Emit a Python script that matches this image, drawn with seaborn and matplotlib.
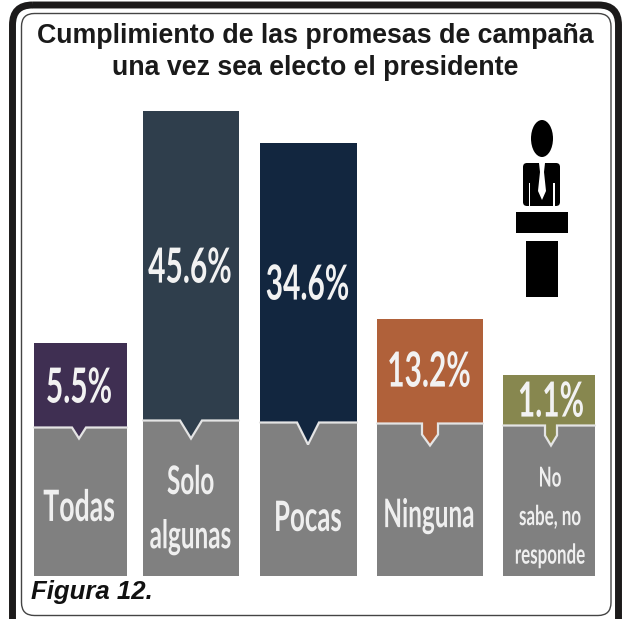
import matplotlib
matplotlib.use("Agg")
import matplotlib.pyplot as plt
from matplotlib.patches import FancyBboxPatch, Ellipse, Polygon, Rectangle
from matplotlib.patheffects import AbstractPathEffect
from matplotlib.transforms import Affine2D
import pandas as pd
import seaborn as sns

# ---- data ----
categories = ["Todas", "Solo\nalgunas", "Pocas", "Ninguna", "No\nsabe, no\nresponde"]
percent_values = [5.5, 45.6, 34.6, 13.2, 1.1]
# the infographic bars are not to scale: drawn heights are read separately
total_heights = [233, 465, 433, 257, 201]
base_heights = [148, 155, 153, 152, 150]
bar_colors = ["#3f2f52", "#2f3e4c", "#12263f", "#b0613a", "#87874f"]
title_lines = "Cumplimiento de las promesas de campaña\nuna vez sea electo el presidente"
footer = "Figura 12."

# ---- layout (pixels) ----
W, H = 623, 619
BASE = 575.5
centers = [80.5, 191, 308.5, 430, 549]
widths = [93, 96, 97, 106, 92]
notch_half = [7, 11, 11, 8, 6]
notch_depth = [11, 18, 22, 22, 20]
notch_cx = [79, 191, 308, 430, 551]
notch_stem = [0, 0, 0, 11, 10]
pct_x = [79, 190, 307.5, 429, 551]
pct_y = [388, 268, 285, 372, 402]
pct_size = 21.5
label_x = [79, 190.5, 308, 429, 550]
label_y = [508, 509, 518, 515, 517]
label_size = [19.2, 17.5, 18.6, 17.5, 12.2]
label_spacing = [1, 1.55, 1, 1, 1.6]
STRETCH = 1.62

sns.set_theme(style="white")
condensed = ["Lato", "DejaVu Sans"]
arial = ["Liberation Sans", "DejaVu Sans"]


class TallText(AbstractPathEffect):
    """Stretch a text's glyphs upward around its centre (the source uses a condensed face)."""
    def __init__(self, cy, sy):
        super().__init__()
        self.cy, self.sy = cy, sy

    def draw_path(self, renderer, gc, tpath, affine, rgbFace=None):
        tall = affine + Affine2D().translate(0, -self.cy).scale(1, self.sy).translate(0, self.cy)
        renderer.draw_path(gc, tpath, tall, rgbFace)


fig = plt.figure(figsize=(W / 100, H / 100), dpi=100, facecolor="white")
ax = fig.add_axes([0, 0, 1, 1])

df = pd.DataFrame({"cat": categories, "total": total_heights, "base": base_heights})
sns.barplot(data=df, x="cat", y="total", hue="cat", palette=bar_colors, legend=False,
            ax=ax, saturation=1, width=1)
n_colored = len(ax.patches)
sns.barplot(data=df, x="cat", y="base", color="#808080", ax=ax, saturation=1, width=1)
ax.set_xlim(0, W)
ax.set_ylim(BASE - H, BASE)
ax.axis("off")
for i, p in enumerate(ax.patches):
    k = i % n_colored
    p.set_x(centers[k] - widths[k] / 2)
    p.set_width(widths[k])
    p.set_linewidth(0)

LIGHT = "#e4e4e4"
for k in range(n_colored):
    b = base_heights[k]
    c, hw, d, st = notch_cx[k], notch_half[k], notch_depth[k], notch_stem[k]
    if st:
        shape = [(c - hw, b), (c - hw, b - st), (c, b - d), (c + hw, b - st), (c + hw, b)]
    else:
        shape = [(c - hw, b), (c, b - d), (c + hw, b)]
    ax.add_patch(Polygon(shape, closed=True, fc=bar_colors[k], ec="none", zorder=4))
    l, r = centers[k] - widths[k] / 2, centers[k] + widths[k] / 2
    line = [(l, b)] + shape + [(r, b)]
    ax.plot(*zip(*line), color=LIGHT, lw=1.6, zorder=5, solid_joinstyle="miter")
    ax.text(pct_x[k], BASE - pct_y[k], f"{percent_values[k]}%", ha="center", va="center", color="#f2f2f2",
            fontsize=pct_size, fontweight="bold", family=condensed, zorder=6,
            path_effects=[TallText(H - pct_y[k], STRETCH)])
    ax.text(label_x[k], BASE - label_y[k], categories[k], ha="center", va="center",
            color="#efefef", fontsize=label_size[k], fontweight="bold", family=condensed,
            linespacing=label_spacing[k], zorder=6,
            path_effects=[TallText(H - label_y[k], STRETCH)])

# pixel-space decoration
px = Affine2D().scale(1 / W, -1 / H).translate(0, 1) + fig.transFigure


def add(patch):
    patch.set_transform(px)
    patch.set_clip_on(False)
    fig.add_artist(patch)


add(FancyBboxPatch((12.5, 5), 606, 640, boxstyle="round,pad=0,rounding_size=20",
                   fc="none", ec="#1c1a1a", lw=5))
add(FancyBboxPatch((21.5, 13.5), 589.5, 602, boxstyle="round,pad=0,rounding_size=13",
                   fc="none", ec="#444444", lw=1))

# speaker icon
add(Ellipse((542, 138.5), 22, 37, fc="black", ec="none"))
add(FancyBboxPatch((523, 163), 37, 43, boxstyle="round,pad=0,rounding_size=4", fc="black", ec="none"))
add(Polygon([(539, 163), (545, 163), (544, 172), (546, 191), (542, 200), (538, 191), (540, 172)], fc="white", ec="none"))
add(Rectangle((528.5, 183), 1.5, 23, fc="white", ec="none"))
add(Rectangle((553, 183), 1.5, 23, fc="white", ec="none"))
add(Rectangle((516, 212), 52, 21, fc="black", ec="none"))
add(Rectangle((526, 241), 32, 56, fc="black", ec="none"))

fig.text(315.5 / W, 1 - 52 / H, title_lines, ha="center", va="center", fontsize=19.3, fontweight="bold",
         family=arial, color="#1a1a1a", linespacing=1.27)
fig.text(31 / W, 1 - 592 / H, footer, ha="left", va="center", fontsize=18.5, fontweight="bold",
         fontstyle="italic", family=arial, color="#111111")

fig.savefig("out.png", dpi=100)
